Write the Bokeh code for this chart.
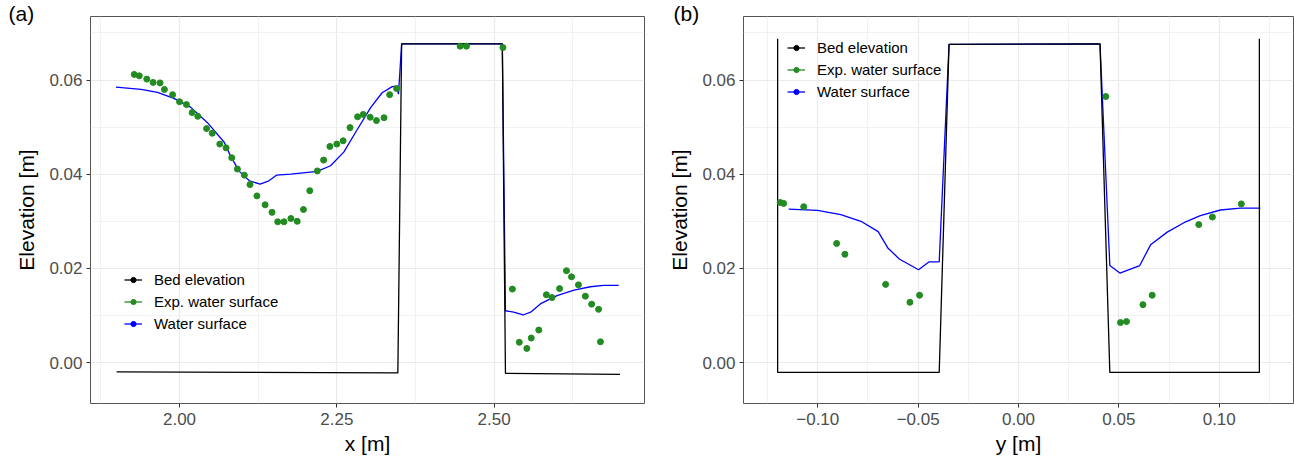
import math
from bokeh.plotting import figure
from bokeh.layouts import row
from bokeh.models import (Range1d, FixedTicker, CustomJSTickFormatter, Legend,
                          LegendItem, ColumnDataSource)
from bokeh.embed import file_html
from bokeh.resources import INLINE

# ---------------- data: panel (a), longitudinal profile ----------------
xa_bed = [1.900, 2.347, 2.353, 2.513, 2.518, 2.700]
ya_bed = [-0.0020, -0.0022, 0.0677, 0.0677, -0.0023, -0.0025]

xa_ws = [1.899, 1.939, 1.965, 1.991, 2.018, 2.044, 2.071, 2.081, 2.095, 2.111,
         2.128, 2.142, 2.154, 2.177, 2.219, 2.240, 2.261, 2.283, 2.304, 2.322,
         2.338, 2.345, 2.348, 2.353, 2.513, 2.518, 2.531, 2.546, 2.558, 2.574,
         2.600, 2.627, 2.653, 2.674, 2.698]
ya_ws = [0.0585, 0.0580, 0.0574, 0.0561, 0.0542, 0.0510, 0.0468, 0.0439, 0.0406, 0.0386,
         0.0379, 0.0386, 0.0398, 0.0400, 0.0406, 0.0418, 0.0447, 0.0496, 0.0542, 0.0573,
         0.0586, 0.0587, 0.0570, 0.0677, 0.0677, 0.0110, 0.0107, 0.0101, 0.0107, 0.0125,
         0.0142, 0.0154, 0.0161, 0.0164, 0.0164]

xa_exp = [1.928, 1.936, 1.948, 1.958, 1.969, 1.976, 1.989, 2.000, 2.011, 2.020,
          2.029, 2.043, 2.052, 2.064, 2.074, 2.083, 2.092, 2.103, 2.112, 2.123,
          2.136, 2.147, 2.156, 2.166, 2.177, 2.187, 2.197, 2.207, 2.219, 2.229,
          2.239, 2.250, 2.260, 2.271, 2.283, 2.292, 2.303, 2.313, 2.325, 2.334,
          2.345, 2.446, 2.456, 2.514, 2.529, 2.540, 2.552, 2.559, 2.571, 2.583,
          2.592, 2.604, 2.615, 2.623, 2.634, 2.645, 2.655, 2.666, 2.669]
ya_exp = [0.0612, 0.0609, 0.0602, 0.0595, 0.0594, 0.0580, 0.0569, 0.0554, 0.0548, 0.0531,
          0.0523, 0.0497, 0.0487, 0.0464, 0.0456, 0.0435, 0.0411, 0.0398, 0.0378, 0.0354,
          0.0335, 0.0319, 0.0299, 0.0299, 0.0306, 0.0300, 0.0325, 0.0365, 0.0407, 0.0430,
          0.0459, 0.0464, 0.0471, 0.0499, 0.0522, 0.0527, 0.0521, 0.0514, 0.0520, 0.0569,
          0.0582, 0.0672, 0.0672, 0.0669, 0.0156, 0.0043, 0.0030, 0.0052, 0.0069, 0.0144,
          0.0138, 0.0157, 0.0195, 0.0182, 0.0165, 0.0141, 0.0124, 0.0113, 0.0044]

# ---------------- data: panel (b), cross section ----------------
xb_bed = [-0.120, -0.120, -0.0395, -0.0346, 0.0406, 0.0455, 0.120, 0.120]
yb_bed = [0.0688, -0.0021, -0.0021, 0.0676, 0.0677, -0.0021, -0.0021, 0.0688]

xb_ws = [-0.1145, -0.1001, -0.0885, -0.0785, -0.0699, -0.0652, -0.0594, -0.0498, -0.0445,
         -0.0395, -0.0346, 0.0406, 0.0455, 0.0505, 0.0604, 0.0658, 0.0741, 0.0824,
         0.0906, 0.1006, 0.1105, 0.1205]
yb_ws = [0.0326, 0.0323, 0.0314, 0.0300, 0.0278, 0.0244, 0.0220, 0.0197, 0.0214,
         0.0214, 0.0676, 0.0677, 0.0206, 0.0190, 0.0206, 0.0250, 0.0277, 0.0297,
         0.0312, 0.0324, 0.0328, 0.0328]

xb_exp = [-0.1187, -0.1170, -0.1070, -0.0906, -0.0865, -0.0662, -0.0541, -0.0493,
          0.0435, 0.0508, 0.0538, 0.0620, 0.0666, 0.0898, 0.0966, 0.1110]
yb_exp = [0.0340, 0.0338, 0.0331, 0.0253, 0.0230, 0.0166, 0.0128, 0.0143,
          0.0565, 0.0085, 0.0087, 0.0123, 0.0143, 0.0293, 0.0309, 0.0337]

# ticks
y_ticks = [0.00, 0.02, 0.04, 0.06]
y_minor = [0.01, 0.03, 0.05, 0.07]
xa_ticks = [2.00, 2.25, 2.50]
xa_minor = [1.875, 2.125, 2.375, 2.625]
xb_ticks = [-0.10, -0.05, 0.00, 0.05, 0.10]
xb_minor = [-0.125, -0.075, -0.025, 0.025, 0.075, 0.125]

series_names = ["Bed elevation", "Exp. water surface", "Water surface"]
series_colors = ["#000000", "#228B22", "#0000FF"]

FONT = "Liberation Sans"
fmt_code = "const s = Math.abs(tick).toFixed(2); return (tick < -1e-12 ? '\\u2212' : '') + s;"
Y_RANGE = (-0.0087, 0.0735)


def make_panel(width, left, right, xr, xt, xm, xlabel, tag, tag_offset, leg_loc,
               bx, by, wx, wy, ex, ey):
    p = figure(width=width, height=460, x_range=Range1d(*xr),
               y_range=Range1d(*Y_RANGE),
               output_backend="svg", toolbar_location=None,
               min_border_left=left, min_border_right=right,
               min_border_top=16, min_border_bottom=57)
    p.background_fill_color = "white"
    p.border_fill_color = "white"
    p.outline_line_color = "#555555"
    p.outline_line_width = 1

    # panel tag "(a)" / "(b)" drawn as the title, pulled into the top-left corner
    p.title.text = tag
    p.title.align = "left"
    p.title.offset = tag_offset
    p.title.standoff = -17
    p.title.text_font = FONT
    p.title.text_font_size = "21px"
    p.title.text_font_style = "normal"
    p.title.text_color = "#000000"

    p.xaxis.ticker = FixedTicker(ticks=xt, minor_ticks=xm)
    p.yaxis.ticker = FixedTicker(ticks=y_ticks, minor_ticks=y_minor)
    p.xgrid.ticker = FixedTicker(ticks=xt, minor_ticks=xm)
    p.ygrid.ticker = FixedTicker(ticks=y_ticks, minor_ticks=y_minor)
    for g in (p.xgrid, p.ygrid):
        g.grid_line_color = "#EBEBEB"
        g.grid_line_width = 1.2
        g.minor_grid_line_color = "#EFEFEF"
        g.minor_grid_line_width = 0.8

    for ax in (p.xaxis, p.yaxis):
        ax.formatter = CustomJSTickFormatter(code=fmt_code)
        ax.axis_line_color = None
        ax.major_tick_line_color = "#333333"
        ax.major_tick_out = 4
        ax.major_tick_in = 0
        ax.minor_tick_line_color = None
        ax.major_label_text_font = FONT
        ax.major_label_text_font_size = "17px"
        ax.major_label_text_color = "#4D4D4D"
        ax.axis_label_text_font = FONT
        ax.axis_label_text_font_size = "21px"
        ax.axis_label_text_font_style = "normal"
        ax.axis_label_text_color = "#000000"
    p.xaxis.axis_label = xlabel
    p.yaxis.axis_label = "Elevation [m]"
    p.xaxis.major_label_standoff = 5
    p.xaxis.axis_label_standoff = 4
    p.yaxis.major_label_standoff = 4
    p.yaxis.axis_label_standoff = 8

    p.line(wx, wy, line_color=series_colors[2], line_width=1.3)
    p.line(bx, by, line_color=series_colors[0], line_width=1.3)
    p.scatter(ex, ey, size=6, fill_color=series_colors[1], line_color=series_colors[1])

    items = []
    for name, col in zip(series_names, series_colors):
        src = ColumnDataSource(dict(x=[math.nan], y=[math.nan]))
        rl = p.line("x", "y", source=src, line_color=col, line_width=1.3)
        rs = p.scatter("x", "y", source=src, size=5, fill_color=col, line_color=col)
        items.append(LegendItem(label=name, renderers=[rl, rs]))
    leg = Legend(items=items, location=leg_loc, background_fill_alpha=0,
                 border_line_color=None, padding=0, margin=0, spacing=2,
                 glyph_width=18, glyph_height=13, label_height=20,
                 label_standoff=12, label_text_font=FONT,
                 label_text_font_size="15px", label_text_color="#000000")
    p.add_layout(leg)
    return p


pa = make_panel(665, 90, 21, (1.8585, 2.739), xa_ticks, xa_minor, "x [m]", "(a)",
                -82, (34, 70), xa_bed, ya_bed, xa_ws, ya_ws, xa_exp, ya_exp)
pb = make_panel(629, 77, 1, (-0.137, 0.137), xb_ticks, xb_minor, "y [m]", "(b)",
                -70, (44, 302), xb_bed, yb_bed, xb_ws, yb_ws, xb_exp, yb_exp)

layout = row(pa, pb)
open("out.html", "w", encoding="utf-8").write(file_html(layout, INLINE))
